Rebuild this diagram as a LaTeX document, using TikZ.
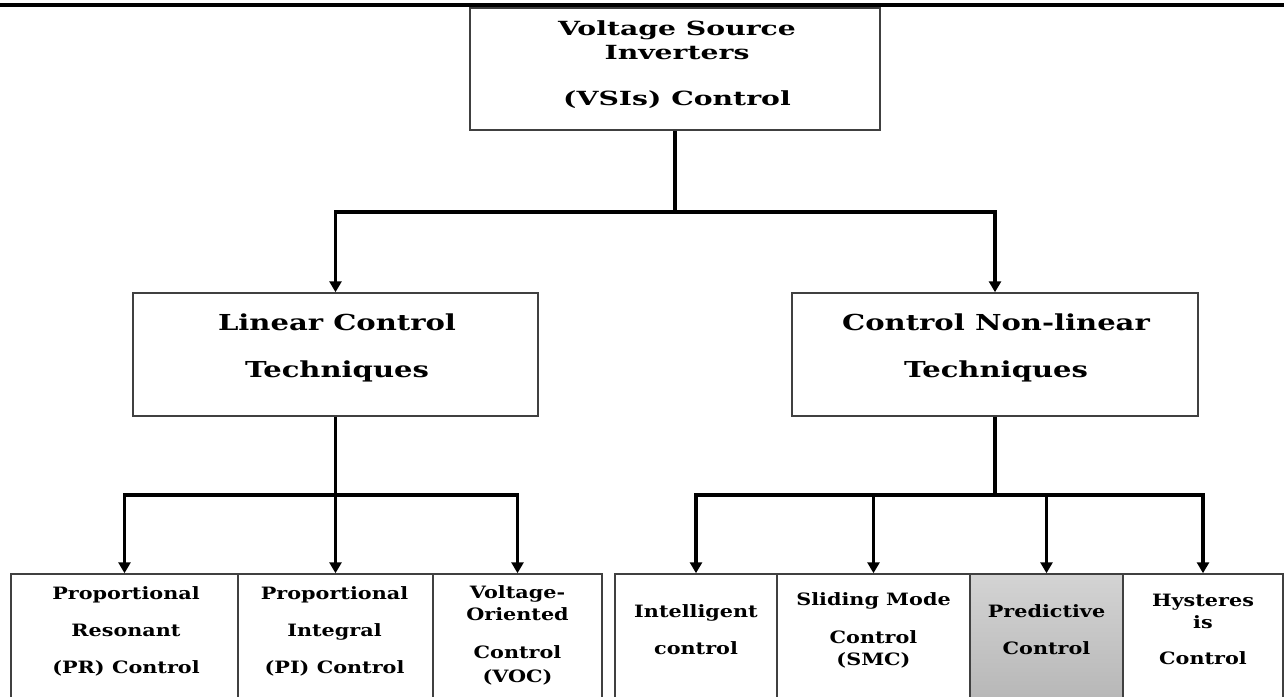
\documentclass[tikz,border=0pt]{standalone}
\usepackage{fontspec}
\setmainfont{DejaVu Serif}
\newfontfamily\fonttop[FakeStretch=1.45]{DejaVu Serif}
\newfontfamily\fontmid[FakeStretch=1.32]{DejaVu Serif}
\newfontfamily\fontbot[FakeStretch=1.22]{DejaVu Serif}
\usetikzlibrary{arrows.meta}
\begin{document}
\begin{tikzpicture}[x=1pt,y=-1pt,
  box/.style={draw=black!75, line width=1.5pt, inner sep=0pt, anchor=center},
  conn/.style={line width=3.2pt, line join=miter},
  arr/.style={conn, -{Triangle[width=12pt,length=11pt]}},
  lbltop/.style={align=center, inner sep=0pt, font=\fonttop\bfseries\fontsize{19.5}{24}\selectfont},
  lblmid/.style={align=center, inner sep=0pt, font=\fontmid\bfseries\fontsize{22}{25}\selectfont},
  lblbot/.style={align=center, inner sep=0pt, font=\fontbot\bfseries\fontsize{17}{22}\selectfont},
]
\useasboundingbox (0,0) rectangle (1284,696);
\clip (0,0) rectangle (1284,696);
% top rule
\coordinate (ruleL) at (0,5);
\coordinate (ruleR) at (1284,5);
\draw[line width=3.5pt] (ruleL) -- (ruleR);

% boxes
\node[box, minimum width=410pt, minimum height=122pt] (top) at (675,69) {};
\node[box, minimum width=405pt, minimum height=123pt] (lin) at (335.5,354.5) {};
\node[box, minimum width=406pt, minimum height=123pt] (nl) at (995,354.5) {};

\node[box, minimum width=227pt, minimum height=146pt] (pr) at (124.5,647) {};
\node[box, minimum width=195pt, minimum height=146pt] (pi) at (335.5,647) {};
\node[box, minimum width=169pt, minimum height=146pt] (voc) at (517.5,647) {};
\node[box, minimum width=162pt, minimum height=146pt] (ic) at (696,647) {};
\node[box, minimum width=193pt, minimum height=146pt] (smc) at (873.5,647) {};
\node[box, minimum width=153pt, minimum height=146pt, top color=black!17, bottom color=black!30] (pc) at (1046.5,647) {};
\node[box, minimum width=160pt, minimum height=146pt] (hc) at (1203,647) {};

% texts
\node[lbltop] (ttop) at (677,65) {Voltage Source\\Inverters\\[22pt](VSIs) Control};
\node[lblmid] (tlin) at (337,348) {Linear Control\\[22pt]Techniques};
\node[lblmid] (tnl) at (996,348) {Control Non-linear\\[22pt]Techniques};
\node[lblbot] (tpr) at (126,631) {Proportional\\[15pt]Resonant\\[15pt](PR) Control};
\node[lblbot] (tpi) at (334.5,631) {Proportional\\[15pt]Integral\\[15pt](PI) Control};
\node[lblbot] (tvoc) at (517.5,635.5) {Voltage-\\Oriented\\[16pt]Control\\[2pt](VOC)};
\node[lblbot] (tic) at (696,629.5) {Intelligent\\[15pt]control};
\node[lblbot] (tsmc) at (873.5,630) {Sliding Mode\\[16pt]Control\\(SMC)};
\node[lblbot] (tpc) at (1046.5,629.5) {Predictive\\[15pt]Control};
\node[lblbot] (thc) at (1203,629.5) {Hysteres\\is\\[14pt]Control};

% connectors
\coordinate (j0) at (675,212);
\draw[conn] (top.south) -- (j0);
\draw[arr] (j0) -| (lin.north);
\draw[arr] (j0) -| (nl.north);

\coordinate (j1) at (335.5,495);
\draw[conn] (lin.south) -- (j1);
\draw[arr] (j1) -| (pr.north);
\draw[arr] (j1) -- (pi.north);
\draw[arr] (j1) -| (voc.north);

\coordinate (j2) at (995,495);
\draw[conn] (nl.south) -- (j2);
\draw[arr] (j2) -| (ic.north);
\draw[arr] (j2) -| (smc.north);
\draw[arr] (j2) -| (pc.north);
\draw[arr] (j2) -| (hc.north);
\end{tikzpicture}
\end{document}
